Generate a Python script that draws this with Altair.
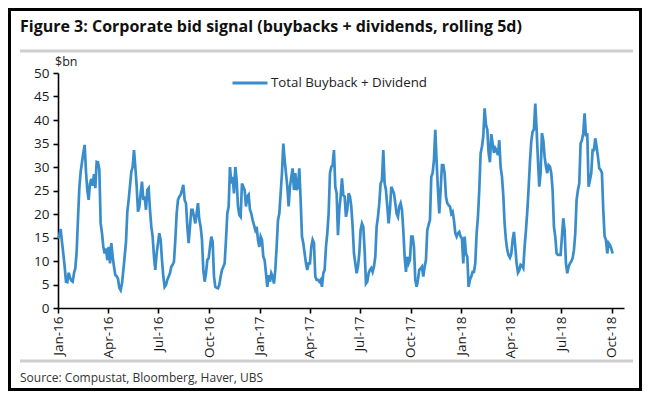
import altair as alt
import pandas as pd

# ---- data (rolling 5d, $bn), samples every 58h from 1 Jan 2016 ----
seg_2016_h1 = [14.8, 15.5, 16.8, 14.0, 11.5, 8.8, 5.6, 5.5, 7.5, 6.5, 5.8, 5.6, 7.4, 8.5, 12.0,
               19.0, 25.5, 29.0, 31.0, 33.0, 34.7, 29.0, 25.0, 23.0, 26.5, 27.5, 26.0, 28.5, 25.5, 31.1,
               31.0, 29.5, 18.0, 15.9, 13.0, 11.6, 12.7, 10.2, 13.0, 9.5, 13.8, 10.9, 8.8, 7.0, 6.8,
               6.2, 4.3, 3.8, 5.2, 8.0, 11.0, 14.0, 20.5, 23.0, 26.0, 29.0, 30.0, 33.6, 30.0, 26.0]
seg_2016_h2 = [20.5, 21.5, 24.4, 26.9, 23.0, 23.7, 20.9, 25.1, 25.5, 20.9, 17.3, 15.2, 10.9, 8.1, 11.6,
               13.8, 15.9, 14.5, 10.2, 6.7, 4.5, 4.9, 6.0, 6.7, 7.4, 8.8, 9.2, 9.9, 14.5, 20.1,
               23.0, 23.7, 24.1, 25.1, 26.2, 23.0, 22.3, 17.3, 13.8, 17.3, 20.9, 20.9, 19.4, 18.0, 20.1,
               22.3, 18.7, 17.3, 14.5, 8.1, 5.6, 7.4, 10.2, 10.6, 13.0, 15.2, 14.1, 6.7, 4.5, 4.3]
seg_2016_q4 = [4.2, 4.9, 6.7, 8.1, 8.8, 9.5, 14.5, 20.1, 21.6, 30.0, 26.5, 27.9, 24.4, 30.0, 27.2,
               21.6, 19.8, 19.4, 26.5, 25.8, 25.1, 21.6, 23.7, 24.1, 20.9, 20.1, 18.7, 17.7, 16.6, 17.3,
               14.5, 13.0, 15.2, 14.5, 10.9, 10.2, 7.4, 4.5, 7.0, 5.6, 7.4, 6.7, 5.2, 8.1, 13.0,
               18.7, 20.1, 24.4, 28.7, 35.0, 31.5, 28.7, 25.8, 21.6, 25.8, 27.9, 29.7, 25.1, 28.7, 25.1]
seg_2017_a = [25.8, 29.7, 23.0, 15.2, 13.8, 11.6, 9.5, 8.1, 9.5, 9.5, 13.0, 14.5, 13.8, 6.7, 6.0,
              6.0, 5.6, 6.0, 4.5, 7.4, 8.1, 13.0, 15.9, 20.1, 28.7, 30.0, 30.4, 33.6, 25.8, 24.4,
              15.5, 20.9, 23.7, 27.6, 24.0, 23.7, 19.4, 20.9, 24.4, 23.7, 21.6, 17.3, 11.6, 9.5, 7.4,
              8.8, 11.6, 16.6, 18.0, 17.3, 12.3, 5.2, 5.6, 7.4, 8.1, 8.5, 7.7, 8.8, 10.9, 17.3]
seg_2017_b = [19.4, 22.3, 26.5, 27.2, 33.6, 26.5, 25.1, 21.6, 18.0, 20.9, 25.8, 25.1, 24.4, 22.3, 20.1,
              19.4, 21.6, 22.3, 20.9, 16.6, 10.9, 7.7, 10.9, 9.5, 10.2, 15.2, 15.2, 13.0, 6.0, 4.5,
              6.0, 8.1, 8.4, 8.8, 6.7, 8.8, 10.2, 16.6, 17.7, 18.7, 27.9, 28.7, 31.5, 37.9, 31.1,
              25.1, 20.1, 25.1, 30.4, 30.4, 28.7, 23.7, 22.3, 21.9, 21.6, 20.1, 20.5, 18.7, 15.9, 15.2]
seg_2018_a = [15.9, 16.2, 15.2, 14.8, 9.5, 15.2, 11.6, 10.9, 4.5, 6.0, 6.7, 7.7, 7.7, 9.5, 15.9,
              19.4, 25.1, 32.9, 34.3, 36.5, 42.5, 39.0, 38.0, 33.0, 31.0, 37.0, 35.0, 33.0, 34.0, 33.5,
              32.5, 35.7, 30.0, 28.0, 24.0, 18.0, 14.5, 12.3, 11.2, 10.7, 11.5, 14.5, 16.2, 13.0, 9.5,
              7.5, 8.0, 9.2, 9.0, 8.5, 13.0, 16.5, 20.5, 25.5, 31.0, 35.5, 37.5, 38.0, 43.5, 38.0]
seg_2018_b = [31.5, 25.8, 28.7, 37.2, 35.7, 32.2, 30.1, 28.7, 30.4, 30.1, 28.7, 25.1, 17.3, 15.2, 11.6,
              11.3, 11.3, 11.3, 15.2, 19.1, 16.6, 9.5, 7.4, 8.8, 9.5, 9.9, 10.6, 12.3, 15.9, 23.0,
              25.1, 26.5, 35.0, 35.7, 37.2, 41.4, 36.5, 37.2, 25.8, 27.2, 28.7, 33.6, 33.6, 36.1, 34.3,
              32.2, 29.7, 29.4, 28.7, 20.9, 15.2, 14.5, 11.6, 13.8, 13.4, 12.7, 11.6]

values = seg_2016_h1 + seg_2016_h2 + seg_2016_q4 + seg_2017_a + seg_2017_b + seg_2018_a + seg_2018_b
dates = pd.date_range("2016-01-01", periods=len(values), freq="58h")
series_name = "Total Buyback + Dividend"
df = pd.DataFrame({"date": dates, "value": values, "series": series_name})

title_text = "Figure 3: Corporate bid signal (buybacks + dividends, rolling 5d)"
source_text = "Source: Compustat, Bloomberg, Haver, UBS"
unit_text = "$bn"
y_ticks = [0, 5, 10, 15, 20, 25, 30, 35, 40, 45, 50]

FONT = "Open Sans"
LINE_COLOR = "#3a8dcb"
W, H = 566, 235
PAD = {"left": 50, "top": 65, "right": 18, "bottom": 83}

line = alt.Chart(df).mark_line(strokeWidth=2.7).encode(
    x=alt.X("date:T",
            scale=alt.Scale(domain=[alt.DateTime(year=2016, month=1, date=1),
                                    alt.DateTime(year=2018, month=10, date=23)]),
            axis=alt.Axis(title=None, format="%b-%y",
                          tickCount={"interval": "month", "step": 3},
                          labelAngle=-90, labelPadding=3, grid=False, labelFontSize=13.5)),
    y=alt.Y("value:Q", scale=alt.Scale(domain=[0, 50], nice=False),
            axis=alt.Axis(title=None, values=y_ticks, grid=False, labelPadding=4, labelFontSize=13.5)),
    color=alt.Color("series:N", scale=alt.Scale(range=[LINE_COLOR]),
                    legend=alt.Legend(title=None, orient="none", legendX=173, legendY=-9,
                                      symbolType="stroke", symbolSize=1225, symbolStrokeWidth=3,
                                      labelFont=FONT, labelFontSize=13.3, labelColor="#222222",
                                      labelOffset=2, padding=0)),
)

one = pd.DataFrame({"k": [0]})

border = alt.Chart(one).mark_rect(fillOpacity=0, stroke="black", strokeWidth=3).encode(
    x=alt.value(-PAD["left"] + 1.5), x2=alt.value(W + PAD["right"] - 1.5),
    y=alt.value(-PAD["top"] + 1.5), y2=alt.value(H + PAD["bottom"] - 1.5))

title = alt.Chart(one).mark_text(text=title_text, align="left", baseline="middle", font=FONT,
                                 fontSize=16, fontWeight="bold", color="#111111").encode(
    x=alt.value(-38), y=alt.value(-46))

rule_top = alt.Chart(one).mark_rule(color="#cfcfcf", strokeWidth=3).encode(
    x=alt.value(-38), x2=alt.value(W + 9), y=alt.value(-22))
rule_bottom = alt.Chart(one).mark_rule(color="#cfcfcf", strokeWidth=3).encode(
    x=alt.value(-38), x2=alt.value(W + 9), y=alt.value(288))

unit = alt.Chart(one).mark_text(text=unit_text, align="left", baseline="middle", font=FONT,
                                fontSize=12.5, color="#222222").encode(
    x=alt.value(-3), y=alt.value(-11))

source = alt.Chart(one).mark_text(text=source_text, align="left", baseline="middle", font=FONT,
                                  fontSize=12, color="#333333").encode(
    x=alt.value(-38), y=alt.value(305))

chart = alt.layer(border, rule_top, rule_bottom, title, unit, source, line).properties(
    width=W, height=H, autosize=alt.AutoSizeParams(type="none"), padding=PAD
).configure_view(strokeWidth=0).configure_axis(
    domainColor="black", domainWidth=1.6, tickColor="black", tickWidth=1.6, tickSize=5,
    labelFont=FONT, labelColor="#1a1a1a"
)

chart.save("out.html", embed_options={"renderer": "svg", "actions": False})
